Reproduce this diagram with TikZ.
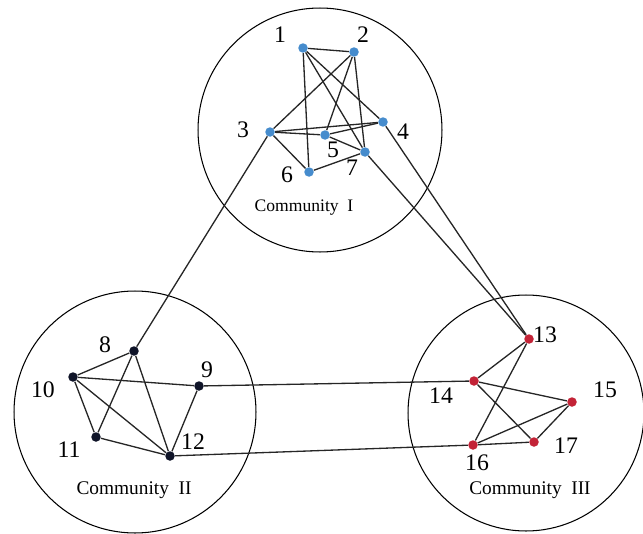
\documentclass[tikz,border=0pt]{standalone}
\usepackage{fontspec}
\setmainfont{Liberation Serif}
\definecolor{dotblue}{RGB}{70,140,205}
\definecolor{dotdark}{RGB}{15,20,40}
\definecolor{dotred}{RGB}{195,35,55}
\usetikzlibrary{positioning}

\begin{document}
\begin{tikzpicture}[
  x=0.02cm, y=-0.02cm,
  every node/.style={font=\fontsize{13.5}{15}\selectfont},
  community/.style={draw,circle,line width=0.6pt,inner sep=0pt},
  vtx/.style={circle,inner sep=0pt,minimum size=0.19cm},
  vtxI/.style={vtx,fill=dotblue},
  vtxII/.style={vtx,fill=dotdark},
  vtxIII/.style={vtx,fill=dotred},
  ctitle/.style={font=\fontsize{11}{13}\selectfont},
  edge/.style={line width=0.75pt,black!85},
]
  \useasboundingbox (0,0) rectangle (643,534);

  % Community circles
  \node[community,minimum size=4.88cm] (cI)   at (320,130) {};
  \node[community,minimum size=4.84cm] (cII)  at (135,412) {};
  \node[community,minimum size=4.72cm] (cIII) at (526,413) {};

  % Community I
  \node[vtxI] (n1) at (303,48)  {};
  \node[vtxI] (n2) at (354,52)  {};
  \node[vtxI] (n3) at (270,132) {};
  \node[vtxI] (n4) at (383,122) {};
  \node[vtxI] (n5) at (325,135) {};
  \node[vtxI] (n6) at (309,172) {};
  \node[vtxI] (n7) at (365,152) {};

  % Community II
  \node[vtxII] (n8)  at (134,351) {};
  \node[vtxII] (n9)  at (199,386) {};
  \node[vtxII] (n10) at (73,377)  {};
  \node[vtxII] (n11) at (96,437)  {};
  \node[vtxII] (n12) at (170,456) {};

  % Community III
  \node[vtxIII] (n13) at (529,339) {};
  \node[vtxIII] (n14) at (474,381) {};
  \node[vtxIII] (n15) at (572,402) {};
  \node[vtxIII] (n16) at (473,445) {};
  \node[vtxIII] (n17) at (534,442) {};

  % Links
  \foreach \a/\b in {n1/n2,n1/n4,n1/n6,n1/n7,n2/n3,n2/n5,n2/n7,n3/n4,n3/n5,
                     n3/n6,n4/n5,n5/n7,n6/n7,
                     n8/n10,n8/n11,n8/n12,n9/n10,n9/n12,n10/n11,n10/n12,n11/n12,
                     n13/n14,n13/n16,n14/n15,n14/n17,n15/n16,n15/n17,n16/n17,
                     n3/n8,n4/n13,n7/n13,n9/n14,n12/n16}
    \draw[edge] (\a) -- (\b);

  % Vertex labels
  \node (t1)  at (280,35)  {1};
  \node (t2)  at (363,35)  {2};
  \node (t3)  at (243,130) {3};
  \node (t4)  at (403,132) {4};
  \node (t5)  at (333,150) {5};
  \node (t6)  at (287,175) {6};
  \node (t7)  at (352,168) {7};
  \node (t8)  at (105,345) {8};
  \node (t9)  at (207,370) {9};
  \node (t10) at (43,390)  {10};
  \node (t11) at (69,450)  {11};
  \node (t12) at (193,442) {12};
  \node (t13) at (545,335) {13};
  \node (t14) at (441,396) {14};
  \node (t15) at (605,390) {15};
  \node (t16) at (477,463) {16};
  \node (t17) at (566,446) {17};

  % Community titles
  \node[ctitle,font=\fontsize{10}{12}\selectfont] (lI) at (304,208) {Community\ \ I};
  \node[ctitle] (lII)  at (134,490) {Community\ \ II};
  \node[ctitle] (lIII) at (530,490) {Community\ \ III};
\end{tikzpicture}
\end{document}
